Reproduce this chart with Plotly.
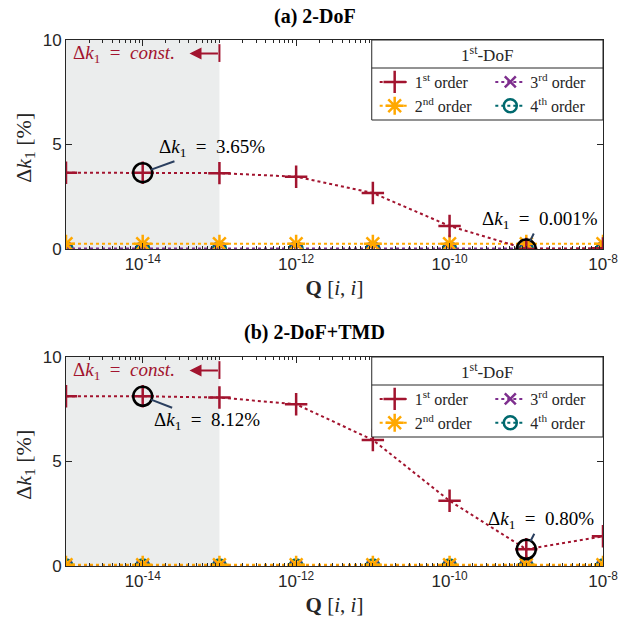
import plotly.graph_objects as go

Q = [1e-15, 1e-14, 1e-13, 1e-12, 1e-11, 1e-10, 1e-9, 1e-8]

a_1st = [3.65, 3.65, 3.63, 3.46, 2.68, 1.10, 0.001, 0.03]
a_2nd = [0.25, 0.25, 0.25, 0.25, 0.25, 0.25, 0.25, 0.25]
a_3rd = [0.02, 0.02, 0.02, 0.02, 0.02, 0.02, 0.02, 0.02]
a_4th = [0.0, 0.0, 0.0, 0.0, 0.0, 0.0, 0.0, 0.0]

b_1st = [8.12, 8.12, 8.06, 7.74, 6.03, 3.12, 0.80, 1.42]
b_2nd = [0.06, 0.06, 0.06, 0.06, 0.06, 0.06, 0.06, 0.06]
b_3rd = [0.02, 0.02, 0.02, 0.02, 0.02, 0.02, 0.02, 0.02]
b_4th = [0.0, 0.0, 0.0, 0.0, 0.0, 0.0, 0.0, 0.0]

names = ["1<sup>st</sup> order", "2<sup>nd</sup> order", "3<sup>rd</sup> order", "4<sup>th</sup> order"]
colors = ["#A2142F", "#FFA800", "#7E2F8E", "#00696E"]
symbols = ["cross-thin", "asterisk-open", "x-thin", "circle-open"]
sizes = [16, 15, 11, 13]

tickvals = [1e-14, 1e-12, 1e-10, 1e-8]
ticktext = ["10<sup>-14</sup>", "10<sup>-12</sup>", "10<sup>-10</sup>", "10<sup>-8</sup>"]

SERIF = "Liberation Serif"
SANS = "Liberation Sans"
INK = "#262626"

W, H = 630, 631
L, R, T, B = 66, 16, 40, 65
pw = W - L - R
ph = H - T - B


def px(xp):
    return (xp - L) / pw


def py(yp):
    return (H - B - yp) / ph


top_dom = [py(249), 1.0]
bot_dom = [0.0, py(357)]

fig = go.Figure()

panels = [
    (a_1st, a_2nd, a_3rd, a_4th, "x", "y", ("legend", "legend3"), 40),
    (b_1st, b_2nd, b_3rd, b_4th, "x2", "y2", ("legend2", "legend4"), 357),
]

col_of = {0: 0, 1: 0, 2: 1, 3: 1}
for (s1, s2, s3, s4, xa, ya, lgs, ytop) in panels:
    series = [s1, s2, s3, s4]
    for idx in [3, 2, 1, 0]:
        fig.add_trace(go.Scatter(
            x=Q, y=series[idx], mode="lines+markers", name=names[idx],
            line=dict(color=colors[idx], width=2, dash="dot"),
            marker=dict(symbol=symbols[idx], size=sizes[idx], color=colors[idx],
                        line=dict(color=colors[idx], width=2.5)),
            xaxis=xa, yaxis=ya, legend=lgs[col_of[idx]], legendrank=idx + 1,
        ))

# highlight circles
hl = [
    ([Q[1], Q[6]], [a_1st[1], a_1st[6]], "x", "y"),
    ([Q[1], Q[6]], [b_1st[1], b_1st[6]], "x2", "y2"),
]
for xs, ys, xa, ya in hl:
    fig.add_trace(go.Scatter(x=xs, y=ys, mode="markers", showlegend=False,
                             marker=dict(symbol="circle-open", size=19, color="black",
                                         line=dict(color="black", width=2.5)),
                             xaxis=xa, yaxis=ya))

axis_common = dict(
    type="log", range=[-15, -8], showline=True, linecolor=INK, linewidth=1,
    mirror="allticks", ticks="inside", ticklen=6, tickcolor=INK,
    tickvals=tickvals, ticktext=ticktext, showgrid=False, zeroline=False,
    tickfont=dict(family=SANS, size=17, color=INK),
    minor=dict(ticks="inside", ticklen=3, tickcolor=INK, dtick="D1", showgrid=False),
)
yaxis_common = dict(
    range=[0, 10], tickvals=[0, 5, 10], showline=True, linecolor=INK, linewidth=1,
    mirror="allticks", ticks="inside", ticklen=6, tickcolor=INK, showgrid=False,
    zeroline=False, tickfont=dict(family=SANS, size=17, color=INK),
)

xtitle = dict(text="<b>Q</b> [<i>i</i>, <i>i</i>]", font=dict(family=SERIF, size=21, color=INK), standoff=6)

leg_font = dict(family=SERIF, size=16, color=INK)
legend_common = dict(
    orientation="v", xanchor="left", yanchor="top",
    bgcolor="rgba(0,0,0,0)", borderwidth=0, font=leg_font,
    tracegroupgap=0, itemwidth=30, title=dict(text=""),
)

layout_legends = {}
for (s1, s2, s3, s4, xa, ya, lgs, ytop) in panels:
    layout_legends[lgs[0]] = dict(x=px(381), y=py(ytop + 25), **legend_common)
    layout_legends[lgs[1]] = dict(x=px(499), y=py(ytop + 25), **legend_common)

fig.update_layout(
    width=W, height=H,
    margin=dict(l=L, r=R, t=T, b=B),
    paper_bgcolor="white", plot_bgcolor="white",
    xaxis=dict(domain=[0, 1], anchor="y", title=xtitle, **axis_common),
    yaxis=dict(domain=top_dom, anchor="x", **yaxis_common),
    xaxis2=dict(domain=[0, 1], anchor="y2", title=xtitle, **axis_common),
    yaxis2=dict(domain=bot_dom, anchor="x2", **yaxis_common),
    showlegend=True,
    **layout_legends,
)

shapes = []
for xr, yr in [("x", "y"), ("x2", "y2")]:
    shapes.append(dict(type="rect", xref=f"{xr} domain", yref=f"{yr} domain",
                       x0=0, x1=2 / 7, y0=0, y1=1, fillcolor="#EBEDED", line=dict(width=0),
                       layer="below"))
    shapes.append(dict(type="line", xref=f"{xr} domain", yref=f"{yr} domain",
                       x0=2 / 7, x1=2 / 7, y0=0.895, y1=0.98, line=dict(color="#A2142F", width=2)))
for ytop in [40, 357]:
    shapes.append(dict(type="rect", xref="paper", yref="paper", x0=px(378), x1=px(614),
                       y0=py(ytop + 80), y1=py(ytop), fillcolor="white",
                       line=dict(color=INK, width=1), layer="above"))
    shapes.append(dict(type="line", xref="paper", yref="paper", x0=px(378), x1=px(614),
                       y0=py(ytop + 28), y1=py(ytop + 28), line=dict(color=INK, width=1),
                       layer="above"))
fig.update_layout(shapes=shapes)

ann = []
# panel titles
ann.append(dict(text="<b>(a) 2-DoF</b>", xref="paper", yref="paper", x=px(320), y=py(17),
                showarrow=False, font=dict(family=SERIF, size=20, color="black"),
                xanchor="center", yanchor="middle"))
ann.append(dict(text="<b>(b) 2-DoF+TMD</b>", xref="paper", yref="paper", x=px(320), y=py(333),
                showarrow=False, font=dict(family=SERIF, size=20, color="black"),
                xanchor="center", yanchor="middle"))

# y-axis titles
for yc in [148, 465]:
    ann.append(dict(text="Δ<i>k</i><sub>1</sub> [%]", xref="paper", yref="paper",
                    x=px(24), y=py(yc), textangle=-90, showarrow=False,
                    xanchor="center", yanchor="middle",
                    font=dict(family=SERIF, size=22, color=INK)))

# legend titles
for ytop in [40, 357]:
    ann.append(dict(text="1<sup>st</sup>-DoF", xref="paper", yref="paper", x=px(496),
                    y=py(ytop + 14), showarrow=False, xanchor="center", yanchor="middle",
                    font=dict(family=SERIF, size=17, color=INK)))

const_txt = "Δ<i>k</i><sub>1</sub>&nbsp;&nbsp;=&nbsp;&nbsp;<i>const.</i>"
for xr, yr in [("x", "y"), ("x2", "y2")]:
    ann.append(dict(text=const_txt, xref=xr, yref=yr,
                    x=-15, y=9.35, xanchor="left", yanchor="middle", xshift=5, showarrow=False,
                    font=dict(family=SERIF, size=19, color="#A2142F")))
    ann.append(dict(text="", xref=xr, yref=yr, x=-13.39, y=9.35, ax=-13.0, ay=9.35,
                    axref=xr, ayref=yr, showarrow=True, arrowhead=2, arrowsize=1.2,
                    arrowwidth=2, arrowcolor="#A2142F"))

lab_font = dict(family=SERIF, size=19, color="black")


def lab(v):
    return "Δ<i>k</i><sub>1</sub>&nbsp;&nbsp;=&nbsp;&nbsp;" + v


ann.append(dict(text=lab("3.65%"), xref="x", yref="y", x=-14, y=a_1st[1],
                ax=69, ay=-25, showarrow=True, arrowhead=0, arrowwidth=2, standoff=9, font=lab_font))
ann.append(dict(text=lab("0.001%"), xref="x", yref="y", x=-9, y=a_1st[6],
                ax=14, ay=-29, showarrow=True, arrowhead=0, arrowwidth=2, standoff=9, font=lab_font))
ann.append(dict(text=lab("8.12%"), xref="x2", yref="y2", x=-14, y=b_1st[1],
                ax=64, ay=25, showarrow=True, arrowhead=0, arrowwidth=2, standoff=9, font=lab_font))
ann.append(dict(text=lab("0.80%"), xref="x2", yref="y2", x=-9, y=b_1st[6],
                ax=15, ay=-29, showarrow=True, arrowhead=0, arrowwidth=2, standoff=9, font=lab_font))
fig.update_layout(annotations=ann)

fig.write_html("out.html")
